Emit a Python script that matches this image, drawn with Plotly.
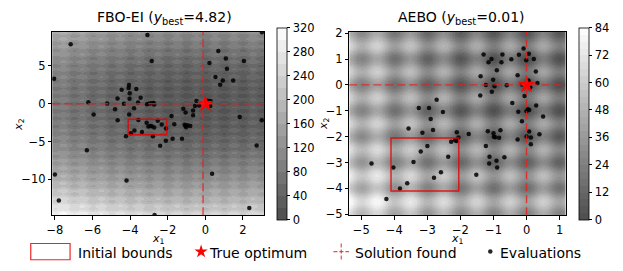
import numpy as np
import plotly.graph_objects as go

W, H = 623, 271

# ---------------- data ----------------
fbo_title_best = 4.82
aebo_title_best = 0.01

fbo_x1 = [-3.08, -7.16, -8.04, -2.85, 3.01, 0.69, 0.22, 1.09, 2.05, 1.15, 0.54, 0.93, 1.48, 0.79,
          -4.06, -4.08, -3.67, -4.45, -4.02, -3.44, -4.67, -4.03, -6.22, -5.22, -4.33, -3.58,
          -3.10, -2.98, -2.85, -2.75, -2.72, -5.94, -4.80, -3.79, -4.05, -4.66, -3.56, -3.96,
          -3.77, -3.37, -3.12, -3.03, -2.93, -2.85, -2.72, -2.53, -2.32, -2.09, -4.22, -2.79,
          -2.40, -2.10, -1.74, -1.24, -1.65, -1.80, -1.17, -1.05, -1.10, -1.05, -1.02, -0.95,
          -0.80, -0.65, -0.55, -0.47, -0.65, -0.33, 0.14, 0.26, 0.28, -6.30, -8.00, -7.79,
          -4.19, 0.36, 2.34, 1.83, 2.73, 3.00, -2.70]
fbo_x2 = [9.08, 7.84, 3.30, 5.63, 9.44, 6.97, 5.38, 5.97, 5.63, 4.62, 3.53, 3.07, 3.07, 2.50,
          2.46, 2.06, 1.93, 1.85, 1.39, 0.80, 0.67, 0.65, 0.19, 0.02, 0.00, 0.15,
          -0.08, 0.02, 0.05, 0.10, -0.12, -1.43, -0.72, -0.59, -1.43, -2.19, -2.14, -3.91,
          -3.53, -3.74, -2.52, -3.03, -2.94, -2.97, -3.15, -2.27, -2.74, -3.28, -4.29, -4.29,
          -5.55, -4.90, -4.63, -4.63, -2.73, -1.64, -0.67, -1.15, -2.77, -2.92, -3.10, -2.85,
          -2.95, -0.90, -0.29, 0.35, -1.52, -0.25, 0.38, -0.29, 0.34, -6.15, -9.35, -12.78,
          -10.15, -9.27, -13.79, -1.77, -5.51, -2.18, -14.70]

aebo_x1 = [-1.30, -1.06, -1.15, -0.73, -0.76, -0.46, -0.23, -0.09, -0.01, 0.07, 0.22, 0.28,
           -0.90, -1.39, -1.01, -1.23, -0.97, -0.60, -0.27, -0.14, 0.06, 0.11, 0.33, -1.05,
           -1.40, -0.06, -0.43, -2.72, -3.26, -2.95, -2.53, -2.90, 0.04, 0.00, 0.08, -0.25,
           0.29, 0.50, -0.14, -3.57, -3.15, -2.83, -2.11, -2.06, -1.75, -1.17, -1.00, -0.79,
           -0.99, -0.95, -0.83, -1.23, 0.00, 0.08, 0.13, 0.13, 0.39, -0.27, -2.12, -2.16,
           -2.28, -3.00, -3.20, -2.37, -3.42, -4.03, -4.69, -1.12, -0.67, -0.91, -1.13, -0.89,
           -1.52, -2.59, -2.80, -3.61, -3.83, -4.24]
aebo_x2 = [1.17, 1.00, 0.87, 1.17, 0.87, 0.99, 1.16, 1.41, 0.95, 1.20, 1.00, 0.52,
           0.57, 0.33, 0.20, 0.00, -0.05, -0.01, 0.37, 0.01, 0.17, -0.09, 0.07, -0.27,
           -0.41, -0.43, -0.70, -0.57, -0.89, -0.89, -1.05, -1.32, -0.94, -1.02, -0.97, -1.04,
           -0.80, -1.22, -1.41, -1.69, -1.85, -1.74, -1.83, -2.03, -1.90, -1.79, -1.87, -1.75,
           -2.00, -2.02, -2.04, -2.36, -1.99, -1.80, -2.03, -2.29, -1.91, -2.11, -2.17, -2.14,
           -2.20, -2.36, -2.57, -2.78, -2.98, -3.19, -3.04, -2.78, -2.80, -2.93, -3.04, -3.19,
           -3.47, -3.38, -3.59, -3.80, -4.00, -4.41]

true_optimum = [0.0, 0.0]
fbo_solution = [-0.12, 0.0]
aebo_solution = [0.0, 0.0]
init_bounds_x1 = [-4.1, -2.05]
init_bounds_x2 = [-4.1, -2.05]

fbo_xlim = [-8.14, 3.13]
fbo_ylim = [-14.75, 9.5]
aebo_xlim = [-5.36, 1.18]
aebo_ylim = [-5.04, 2.04]

fbo_level_step, fbo_level_top = 20, 320
aebo_level_step, aebo_level_top = 3, 84
fbo_cbar_ticks = [0, 40, 80, 120, 160, 200, 240, 280, 320]
aebo_cbar_ticks = [0, 12, 24, 36, 48, 60, 72, 84]
fbo_xticks = [-8, -6, -4, -2, 0, 2]
fbo_yticks = [-10, -5, 0, 5]
aebo_xticks = [-5, -4, -3, -2, -1, 0, 1]
aebo_yticks = [-5, -4, -3, -2, -1, 0, 1, 2]

legend_labels = ["Initial bounds", "True optimum", "Solution found", "Evaluations"]


# objective surface (2-D Rastrigin test function drawn as filled contours)
def rastrigin(a, b):
    return 20 + a ** 2 + b ** 2 - 10 * (np.cos(2 * np.pi * a) + np.cos(2 * np.pi * b))


FONT = "DejaVu Sans"


def px(x):
    return x / W


def py(y):
    return 1 - y / H


def band_colorscale(n):
    cs = []
    for i in range(n):
        g = 255 * (i + 0.5) / n
        v = int(round(0.7 * g + 0.3 * 255))
        c = f"rgb({v},{v},{v})"
        cs.append([i / n, c])
        cs.append([(i + 1) / n, c])
    return cs


def surface(xlim, ylim, step, top, nx, ny):
    gx = np.linspace(xlim[0], xlim[1], nx)
    gy = np.linspace(ylim[0], ylim[1], ny)
    X, Y = np.meshgrid(gx, gy)
    Z = rastrigin(X, Y)
    Zq = np.floor(Z / step) * step + step / 2
    Zq = np.clip(Zq, step / 2, top - step / 2)
    return gx, gy, Zq


fig = go.Figure()

panels = [
    dict(xa="x", ya="y", xlim=fbo_xlim, ylim=fbo_ylim, step=fbo_level_step, top=fbo_level_top,
         cticks=fbo_cbar_ticks, px1=fbo_x1, px2=fbo_x2, sol=fbo_solution,
         dom_x=[46.7, 260.7], dom_y=[27, 219], cbx=273.3),
    dict(xa="x2", ya="y2", xlim=aebo_xlim, ylim=aebo_ylim, step=aebo_level_step, top=aebo_level_top,
         cticks=aebo_cbar_ticks, px1=aebo_x1, px2=aebo_x2, sol=aebo_solution,
         dom_x=[346.7, 565.0], dom_y=[27.3, 219], cbx=578.7),
]

shapes = []
for p in panels:
    gx, gy, Zq = surface(p["xlim"], p["ylim"], p["step"], p["top"], 360, 360)
    n = int(p["top"] / p["step"])
    fig.add_trace(go.Heatmap(
        x=gx, y=gy, z=Zq, xaxis=p["xa"], yaxis=p["ya"], zmin=0, zmax=p["top"],
        colorscale=band_colorscale(n), zsmooth=False, hoverinfo="skip",
        colorbar=dict(
            x=px(p["cbx"]), xanchor="left", xpad=0, ypad=0,
            y=py((p["dom_y"][0] + p["dom_y"][1]) / 2), yanchor="middle",
            len=p["dom_y"][1] - p["dom_y"][0], lenmode="pixels",
            thickness=10, thicknessmode="pixels",
            outlinecolor="black", outlinewidth=0.8,
            tickvals=p["cticks"], ticks="outside", ticklen=3.5, tickwidth=0.8,
            tickcolor="black", tickfont=dict(family=FONT, size=11.5, color="black"),
        ),
    ))
    # evaluations
    fig.add_trace(go.Scatter(
        x=p["px1"], y=p["px2"], xaxis=p["xa"], yaxis=p["ya"], mode="markers",
        marker=dict(size=4.5, color="rgba(0,0,0,0.85)", line=dict(width=0)),
        showlegend=False, hoverinfo="skip"))
    # true optimum
    fig.add_trace(go.Scatter(
        x=[true_optimum[0]], y=[true_optimum[1]], xaxis=p["xa"], yaxis=p["ya"], mode="markers",
        marker=dict(symbol="star", size=13, color="red", line=dict(width=0)),
        showlegend=False, hoverinfo="skip"))
    # initial bounds
    shapes.append(dict(type="rect", xref=p["xa"], yref=p["ya"],
                       x0=init_bounds_x1[0], x1=init_bounds_x1[1],
                       y0=init_bounds_x2[0], y1=init_bounds_x2[1],
                       line=dict(color="rgba(230,0,0,0.85)", width=1.4)))
    # solution found cross-hair
    dash = "8px,4px"
    shapes.append(dict(type="line", xref=p["xa"], yref=p["ya"] + " domain",
                       x0=p["sol"][0], x1=p["sol"][0], y0=0, y1=1,
                       line=dict(color="rgba(230,30,30,0.8)", width=1.4, dash=dash)))
    shapes.append(dict(type="line", xref=p["xa"] + " domain", yref=p["ya"],
                       x0=0, x1=1, y0=p["sol"][1], y1=p["sol"][1],
                       line=dict(color="rgba(230,30,30,0.8)", width=1.4, dash=dash)))

axis_common = dict(showgrid=False, zeroline=False, showline=True, mirror=True,
                   linecolor="black", linewidth=0.8, ticks="outside", ticklen=3.5,
                   tickwidth=0.8, tickcolor="black",
                   tickfont=dict(family=FONT, size=11.5, color="black"))

LEG_TOP = 234  # pixel row where the legend strip starts
layout = dict(
    width=W, height=H, autosize=False,
    margin=dict(l=0, r=0, t=0, b=0, pad=0),
    paper_bgcolor="white", plot_bgcolor="rgba(0,0,0,0)",
    showlegend=False,
    xaxis=dict(domain=[px(46.7), px(260.7)], range=fbo_xlim, tickvals=fbo_xticks,
               anchor="y", **axis_common),
    yaxis=dict(domain=[py(219), py(27)], range=fbo_ylim, tickvals=fbo_yticks,
               anchor="x", **axis_common),
    xaxis2=dict(domain=[px(346.7), px(565.0)], range=aebo_xlim, tickvals=aebo_xticks,
                anchor="y2", **axis_common),
    yaxis2=dict(domain=[py(219), py(27.3)], range=aebo_ylim, tickvals=aebo_yticks,
                anchor="x2", **axis_common),
    xaxis3=dict(domain=[0, 1], range=[0, W], visible=False, anchor="y3", fixedrange=True),
    yaxis3=dict(domain=[0, py(LEG_TOP)], range=[H, LEG_TOP], visible=False, anchor="x3",
                fixedrange=True),
)

annotations = []
title_font = dict(family=FONT, size=14, color="black")
lab_font = dict(family=FONT, size=11, color="black")
annotations.append(dict(x=px(160), y=py(13), xref="paper", yref="paper", showarrow=False,
                        xanchor="center", yanchor="middle", font=title_font,
                        text=f"FBO-EI (<i>y</i><sub>best</sub>={fbo_title_best:.2f})"))
annotations.append(dict(x=px(459.5), y=py(13), xref="paper", yref="paper", showarrow=False,
                        xanchor="center", yanchor="middle", font=title_font,
                        text=f"AEBO (<i>y</i><sub>best</sub>={aebo_title_best:.2f})"))
for cx in (153.7, 455.9):
    annotations.append(dict(x=px(cx), y=py(243.5), xref="paper", yref="paper", showarrow=False,
                            xanchor="center", yanchor="middle", font=lab_font,
                            text="<i>x</i><sub>1</sub>", borderpad=0))
for cx, cy in ((12.5, 124), (320.5, 123)):
    annotations.append(dict(x=px(cx), y=py(cy), xref="paper", yref="paper", showarrow=False,
                            xanchor="center", yanchor="middle", font=lab_font, textangle=-90,
                            text="<i>x</i><sub>2</sub>", borderpad=0))

# ---------------- legend (drawn on an overlay axis in pixel units) ----------------
leg_y = 257
leg_font = dict(family=FONT, size=14, color="black")
shapes.append(dict(type="rect", xref="x3", yref="y3", x0=25, x1=64.7, y0=248.5, y1=265.5,
                   line=dict(color="rgba(230,0,0,0.85)", width=1.2), fillcolor="rgba(0,0,0,0)"))
shapes.append(dict(type="line", xref="x3", yref="y3", x0=330.6, x1=346.4, y0=leg_y, y1=leg_y,
                   line=dict(color="rgba(230,30,30,0.8)", width=1.2, dash="4px,2px")))
shapes.append(dict(type="line", xref="x3", yref="y3", x0=338.5, x1=338.5, y0=248.5, y1=265.5,
                   line=dict(color="rgba(230,30,30,0.8)", width=1.2, dash="4px,2px")))
fig.add_trace(go.Scatter(x=[197], y=[leg_y], xaxis="x3", yaxis="y3", mode="markers",
                         marker=dict(symbol="star", size=10, color="red", line=dict(width=0)),
                         showlegend=False, hoverinfo="skip", cliponaxis=False))
fig.add_trace(go.Scatter(x=[489], y=[leg_y], xaxis="x3", yaxis="y3", mode="markers",
                         marker=dict(size=4.5, color="rgba(0,0,0,0.85)", line=dict(width=0)),
                         showlegend=False, hoverinfo="skip", cliponaxis=False))
for lx, txt in zip((74, 206, 353, 500), legend_labels):
    annotations.append(dict(x=lx, y=leg_y + 1, xref="x3", yref="y3", showarrow=False,
                            xanchor="left", yanchor="middle", font=leg_font, text=txt,
                            xshift=-2, borderpad=0))

layout["shapes"] = shapes
layout["annotations"] = annotations
fig.update_layout(**layout)

fig.write_html("out.html", config={"displayModeBar": False},
               post_script="document.body.style.margin='0';document.body.style.padding='0';")
